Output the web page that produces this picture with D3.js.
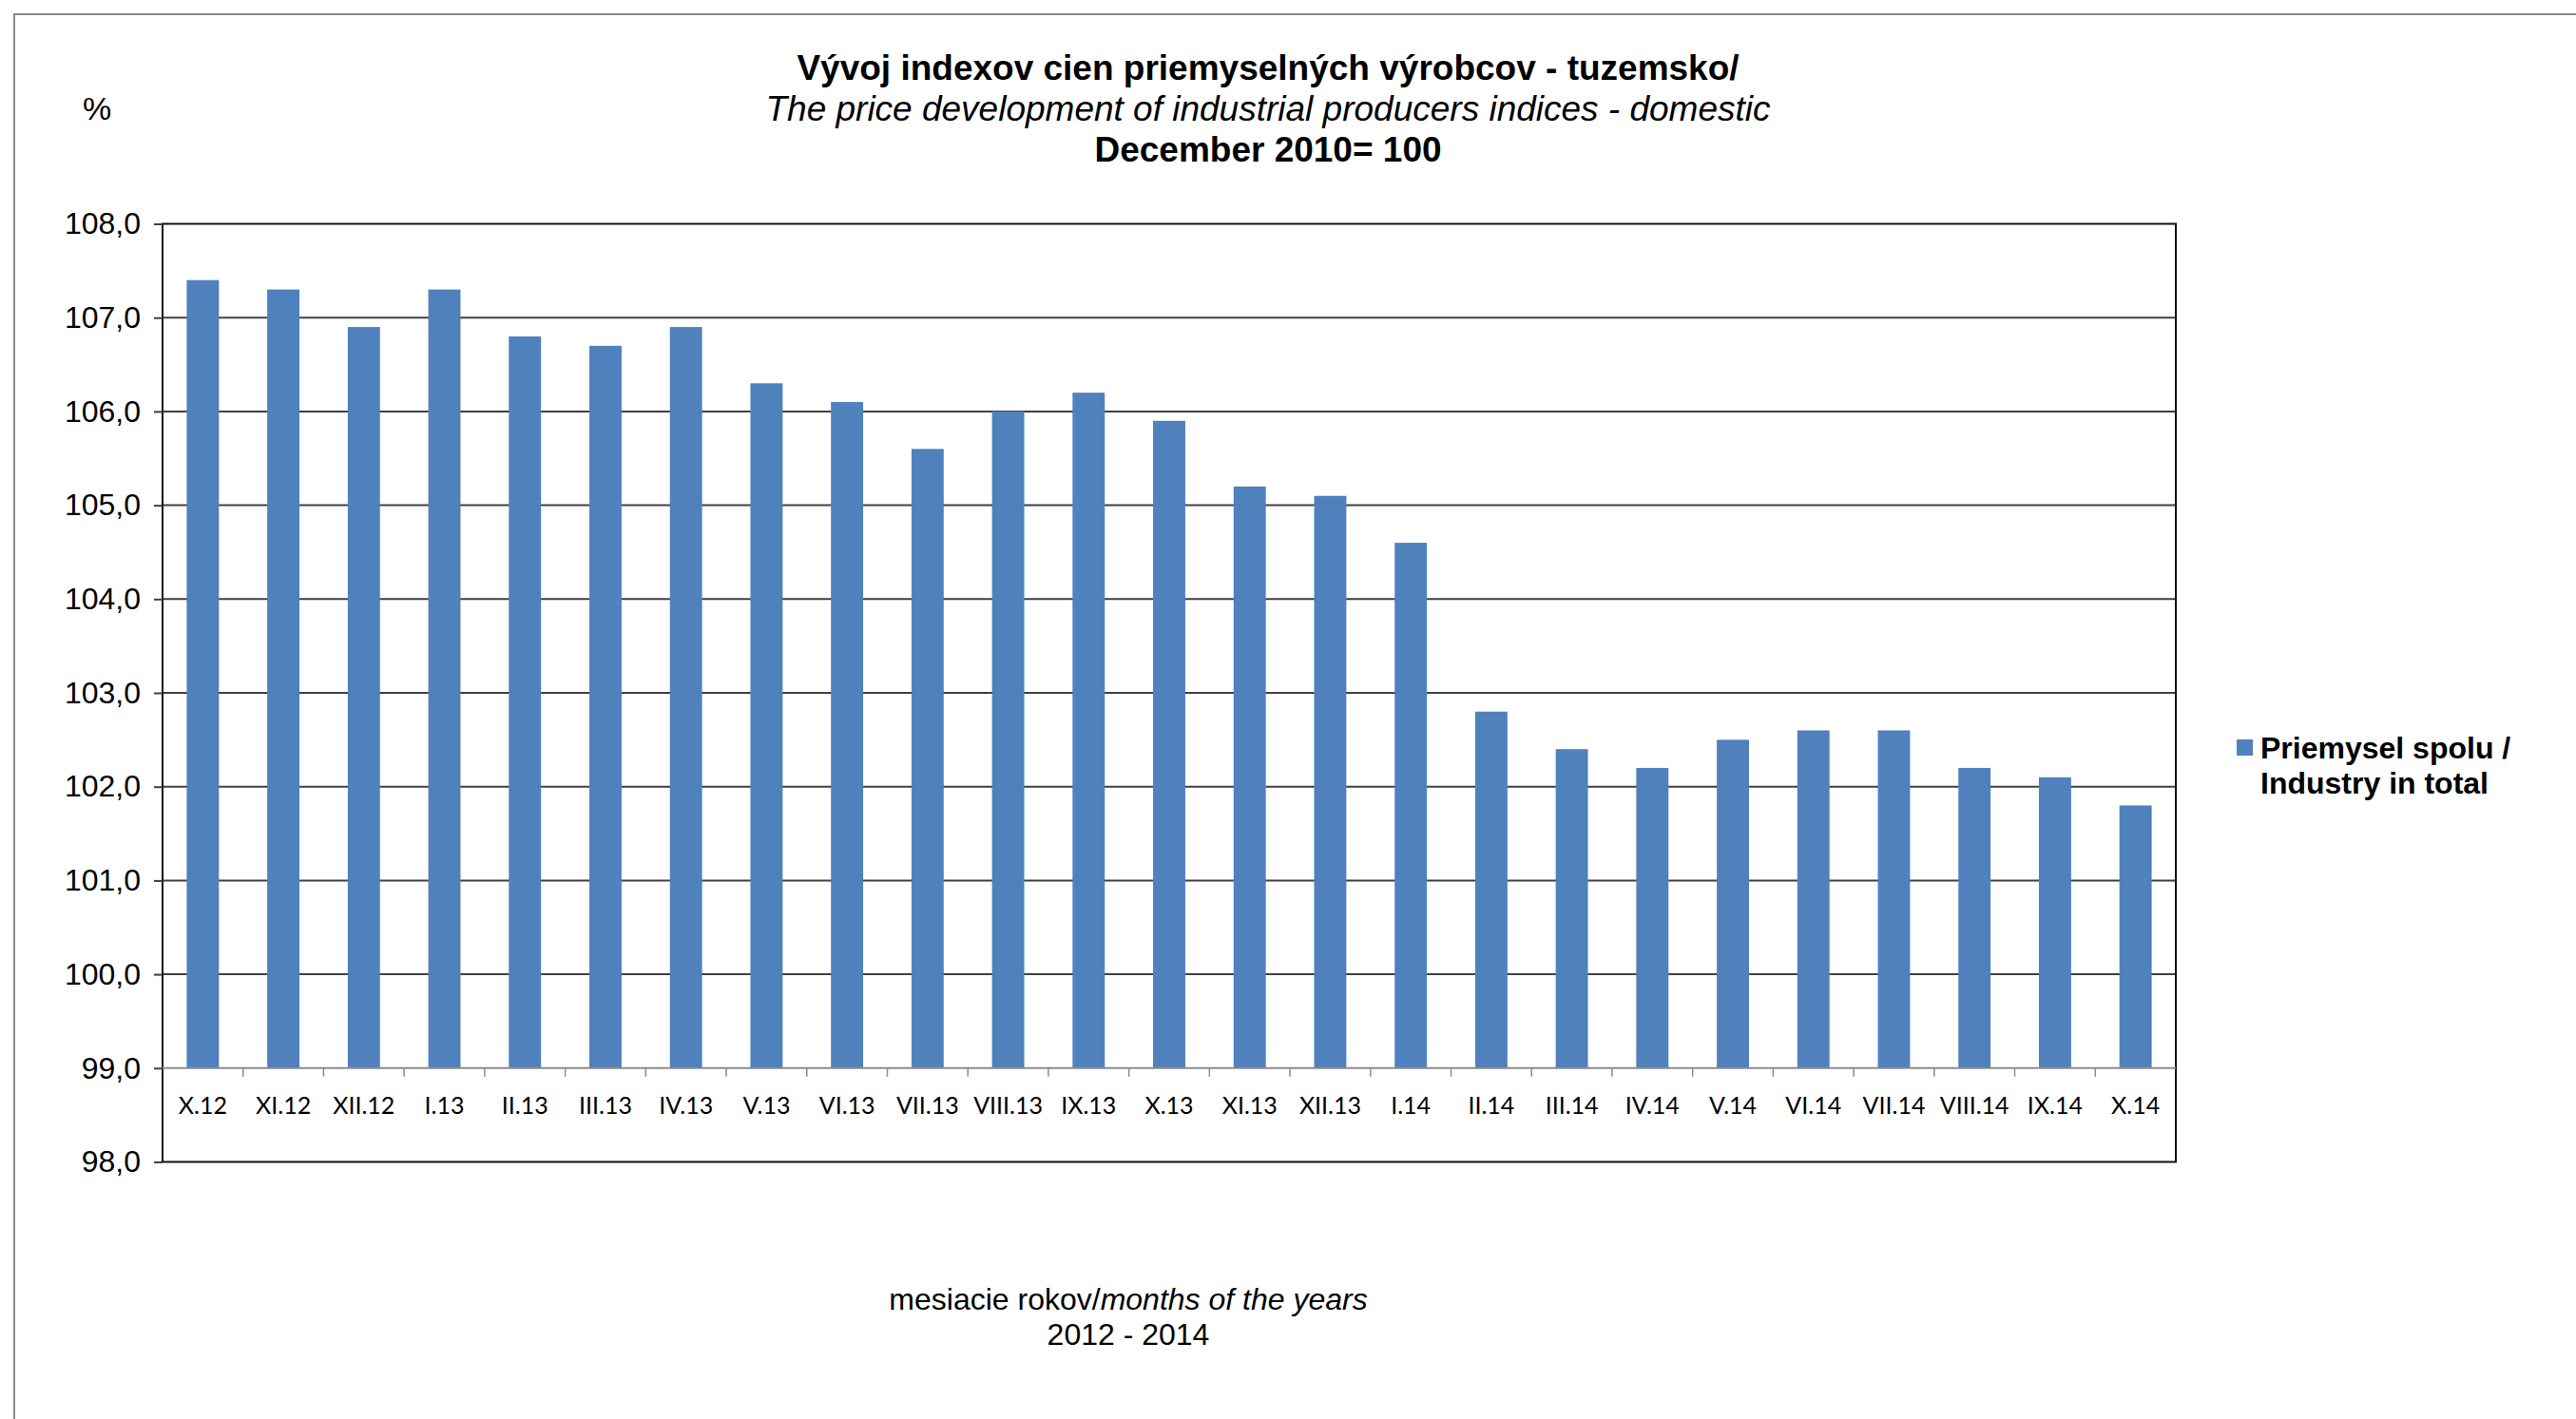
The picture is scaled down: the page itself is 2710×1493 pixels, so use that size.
<!DOCTYPE html>
<html>
<head>
<meta charset="utf-8">
<script src="https://cdn.jsdelivr.net/npm/d3@7"></script>
<style>
  body { margin: 0; background: #fff; }
  svg { display: block; }
</style>
</head>
<body>
<main></main>
<script>
const months = ['X.12', 'XI.12', 'XII.12', 'I.13', 'II.13', 'III.13', 'IV.13', 'V.13', 'VI.13',
  'VII.13', 'VIII.13', 'IX.13', 'X.13', 'XI.13', 'XII.13', 'I.14', 'II.14', 'III.14', 'IV.14',
  'V.14', 'VI.14', 'VII.14', 'VIII.14', 'IX.14', 'X.14'];
const industryTotal = [107.4, 107.3, 106.9, 107.3, 106.8, 106.7, 106.9, 106.3, 106.1,
  105.6, 106.0, 106.2, 105.9, 105.2, 105.1, 104.6, 102.8, 102.4, 102.2,
  102.5, 102.6, 102.6, 102.2, 102.1, 101.8];
const yTicks = [98, 99, 100, 101, 102, 103, 104, 105, 106, 107, 108];
const titleLines = ['Vývoj indexov cien priemyselných výrobcov - tuzemsko/',
  'The price development of industrial producers indices - domestic',
  'December 2010= 100'];
const seriesName = ['Priemysel spolu /', 'Industry in total'];

const width = 2710, height = 1493;
const plot = { left: 171, right: 2289, top: 235.5, bottom: 1222.5 };
const barColor = '#4f81bd';
const arial = '"Liberation Sans", Arial, sans-serif';

const svg = d3.select('main').append('svg')
  .attr('width', width).attr('height', height);

svg.append('rect').attr('width', width).attr('height', height).attr('fill', '#fff');

// outer chart frame (only top and left edges visible)
svg.append('path')
  .attr('d', `M15,${height}V15H${width}`)
  .attr('fill', 'none').attr('stroke', '#8c8c8c').attr('stroke-width', 2);

const x = d3.scaleBand().domain(months)
  .range([plot.left, plot.right]).paddingInner(0.6).paddingOuter(0.3);
const y = d3.scaleLinear().domain([98, 108]).range([plot.bottom, plot.top]);

// gridlines
svg.append('g').selectAll('line')
  .data(yTicks.filter((d) => d > 99 && d < 108))
  .join('line')
  .attr('x1', plot.left).attr('x2', plot.right)
  .attr('y1', (d) => y(d)).attr('y2', (d) => y(d))
  .attr('stroke', '#404040').attr('stroke-width', 2);

// bars rise from 99
svg.append('g').selectAll('rect')
  .data(industryTotal)
  .join('rect')
  .attr('x', (d, i) => x(months[i]))
  .attr('width', x.bandwidth())
  .attr('y', (d) => y(d))
  .attr('height', (d) => y(99) - y(d))
  .attr('fill', barColor);

// plot area border
svg.append('rect')
  .attr('x', plot.left).attr('y', plot.top)
  .attr('width', plot.right - plot.left).attr('height', plot.bottom - plot.top)
  .attr('fill', 'none').attr('stroke', '#111').attr('stroke-width', 2);

// y axis
const yAxis = svg.append('g')
  .attr('transform', `translate(${plot.left},0)`)
  .call(d3.axisLeft(y).tickValues(yTicks).tickSize(9).tickPadding(14)
    .tickFormat((d) => d3.format('.1f')(d).replace('.', ',')));
yAxis.select('.domain').remove();
yAxis.selectAll('line').attr('stroke', '#404040').attr('stroke-width', 2);
yAxis.selectAll('text')
  .attr('font-family', arial).attr('font-size', 32).attr('fill', '#000');

// category axis sitting on the 99 line
const xAxis = svg.append('g')
  .attr('transform', `translate(0,${y(99)})`)
  .call(d3.axisBottom(x).tickSize(0).tickPadding(30));
xAxis.select('.domain').remove();
xAxis.selectAll('text')
  .attr('font-family', 'Lato, "Open Sans", sans-serif').attr('font-size', 25).attr('fill', '#000');

svg.append('line')
  .attr('x1', plot.left).attr('x2', plot.right)
  .attr('y1', y(99)).attr('y2', y(99))
  .attr('stroke', '#8c8c8c').attr('stroke-width', 2);

svg.append('g').selectAll('line')
  .data(months.slice(1))
  .join('line')
  .attr('x1', (d) => x(d) - x.step() * x.paddingInner() / 2)
  .attr('x2', (d) => x(d) - x.step() * x.paddingInner() / 2)
  .attr('y1', y(99)).attr('y2', y(99) + 9)
  .attr('stroke', '#8c8c8c').attr('stroke-width', 1.5);

// title
const titleX = 1334;
svg.append('text').attr('x', titleX).attr('y', 84)
  .attr('text-anchor', 'middle').attr('font-family', arial)
  .attr('font-size', 37).attr('font-weight', 'bold').text(titleLines[0]);
svg.append('text').attr('x', titleX).attr('y', 127)
  .attr('text-anchor', 'middle').attr('font-family', arial)
  .attr('font-size', 37).attr('font-style', 'italic').text(titleLines[1]);
svg.append('text').attr('x', titleX).attr('y', 170)
  .attr('text-anchor', 'middle').attr('font-family', arial)
  .attr('font-size', 37).attr('font-weight', 'bold').text(titleLines[2]);

svg.append('text').attr('x', 102).attr('y', 126)
  .attr('text-anchor', 'middle').attr('font-family', arial)
  .attr('font-size', 34).text('%');

// x axis title
const axisTitle = svg.append('text').attr('x', 1187).attr('y', 1378)
  .attr('text-anchor', 'middle').attr('font-family', arial).attr('font-size', 32);
axisTitle.append('tspan').text('mesiacie rokov/');
axisTitle.append('tspan').attr('font-style', 'italic').text('months of the years');
svg.append('text').attr('x', 1187).attr('y', 1415)
  .attr('text-anchor', 'middle').attr('font-family', arial).attr('font-size', 32)
  .text('2012 - 2014');

// legend
const legend = svg.append('g').attr('transform', 'translate(2353,778)');
legend.append('rect').attr('width', 17).attr('height', 17).attr('fill', barColor);
legend.selectAll('text')
  .data(seriesName)
  .join('text')
  .attr('x', 25).attr('y', (d, i) => 20 + i * 37)
  .attr('font-family', arial).attr('font-size', 32).attr('font-weight', 'bold')
  .text((d) => d);
</script>
</body>
</html>
